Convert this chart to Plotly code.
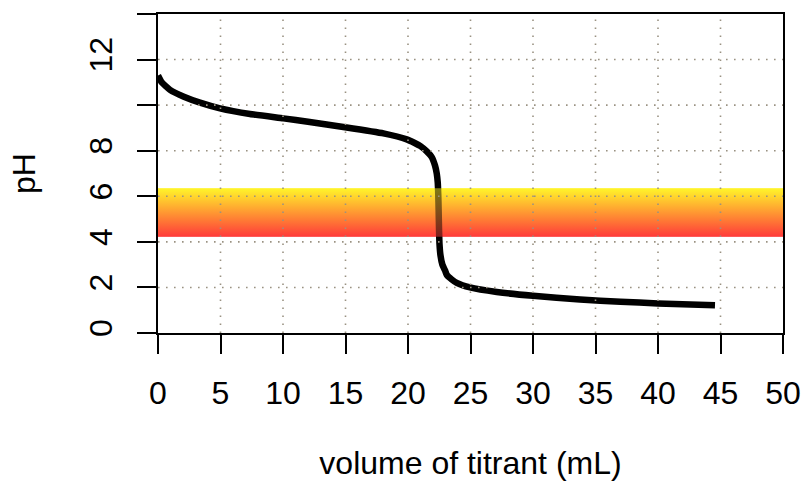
import plotly.graph_objects as go

# ---- data ----
volume_ml = [0, 0.3, 0.96, 2.07, 3.36, 4.96, 7.36, 10.03, 12.0, 14.96, 18.03, 19.9,
             20.5, 21.0, 21.5, 21.9, 22.16, 22.3, 22.38, 22.42, 22.45, 22.48, 22.52,
             22.6, 22.75, 22.96, 23.1, 23.5, 23.9, 24.96, 27.1, 30.0, 33.76, 37.0,
             40.0, 44.56]
ph_values = [11.3, 11.0, 10.67, 10.37, 10.11, 9.86, 9.61, 9.42, 9.27, 9.03, 8.76, 8.50,
             8.35, 8.2, 7.97, 7.72, 7.35, 7.0, 6.6, 6.1, 5.4, 4.6, 3.9,
             3.4, 3.0, 2.75, 2.55, 2.35, 2.20, 2.0, 1.80, 1.63, 1.47, 1.37,
             1.30, 1.22]

indicator_range = [4.22, 6.35]          # pH band (bottom, top)
x_range = [0, 50]
y_range = [0, 14]
x_ticks = [0, 5, 10, 15, 20, 25, 30, 35, 40, 45, 50]
y_ticks = [0, 2, 4, 6, 8, 10, 12, 14]
y_tick_labels = ["0", "2", "4", "6", "8", "", "12", ""]

FONT = "Liberation Sans, Arial, Helvetica, sans-serif"
FS = 32
band_scale = [[0, "#ff3a3a"], [1, "#fff52a"]]

fig = go.Figure()

band_x = [x_range[0], x_range[1], x_range[1], x_range[0], x_range[0]]
band_y = [indicator_range[0], indicator_range[0], indicator_range[1], indicator_range[1], indicator_range[0]]

# opaque gradient band
fig.add_trace(go.Scatter(x=band_x, y=band_y, mode="none", fill="toself",
                         fillgradient=dict(type="vertical", colorscale=band_scale),
                         hoverinfo="skip", showlegend=False))
# titration curve
fig.add_trace(go.Scatter(x=volume_ml, y=ph_values, mode="lines",
                         line=dict(color="black", width=6.5, shape="spline", smoothing=0.4),
                         showlegend=False))
# translucent band over the curve
fig.add_trace(go.Scatter(x=band_x, y=band_y, mode="none", fill="toself",
                         fillgradient=dict(type="vertical", colorscale=band_scale),
                         opacity=0.5, hoverinfo="skip", showlegend=False))

# dotted grid drawn on top
gx, gy = [], []
for xv in x_ticks[1:-1]:
    gx += [xv, xv, None]
    gy += [y_range[0], y_range[1], None]
for yv in y_ticks[1:-1]:
    gx += [x_range[0], x_range[1], None]
    gy += [yv, yv, None]
fig.add_trace(go.Scatter(x=gx, y=gy, mode="lines",
                         line=dict(color="#9a9282", width=1.6, dash="1.6px,6.4px"),
                         hoverinfo="skip", showlegend=False))

axis_common = dict(showgrid=False, zeroline=False, showline=True, mirror=True,
                   linecolor="black", linewidth=2, ticks="outside", ticklen=19,
                   tickwidth=2, tickcolor="black", layer="above traces",
                   automargin=False,
                   tickfont=dict(family=FONT, size=FS, color="black"))

fig.update_layout(
    width=804, height=482,
    margin=dict(l=158, r=21, t=14, b=149),
    paper_bgcolor="white", plot_bgcolor="white",
    font=dict(family=FONT, size=FS, color="black"),
    xaxis=dict(range=x_range, tickmode="array", tickvals=x_ticks,
               ticktext=[str(v) for v in x_ticks], ticklabelstandoff=12,
               title=dict(text="volume of titrant (mL)", standoff=41,
                          font=dict(family=FONT, size=FS)),
               **axis_common),
    yaxis=dict(range=y_range, tickmode="array", tickvals=y_ticks,
               ticktext=y_tick_labels, tickangle=-90, ticklabelstandoff=12,
               title=dict(text="pH", standoff=38, font=dict(family=FONT, size=FS)),
               **axis_common),
)

fig.write_html("out.html")
